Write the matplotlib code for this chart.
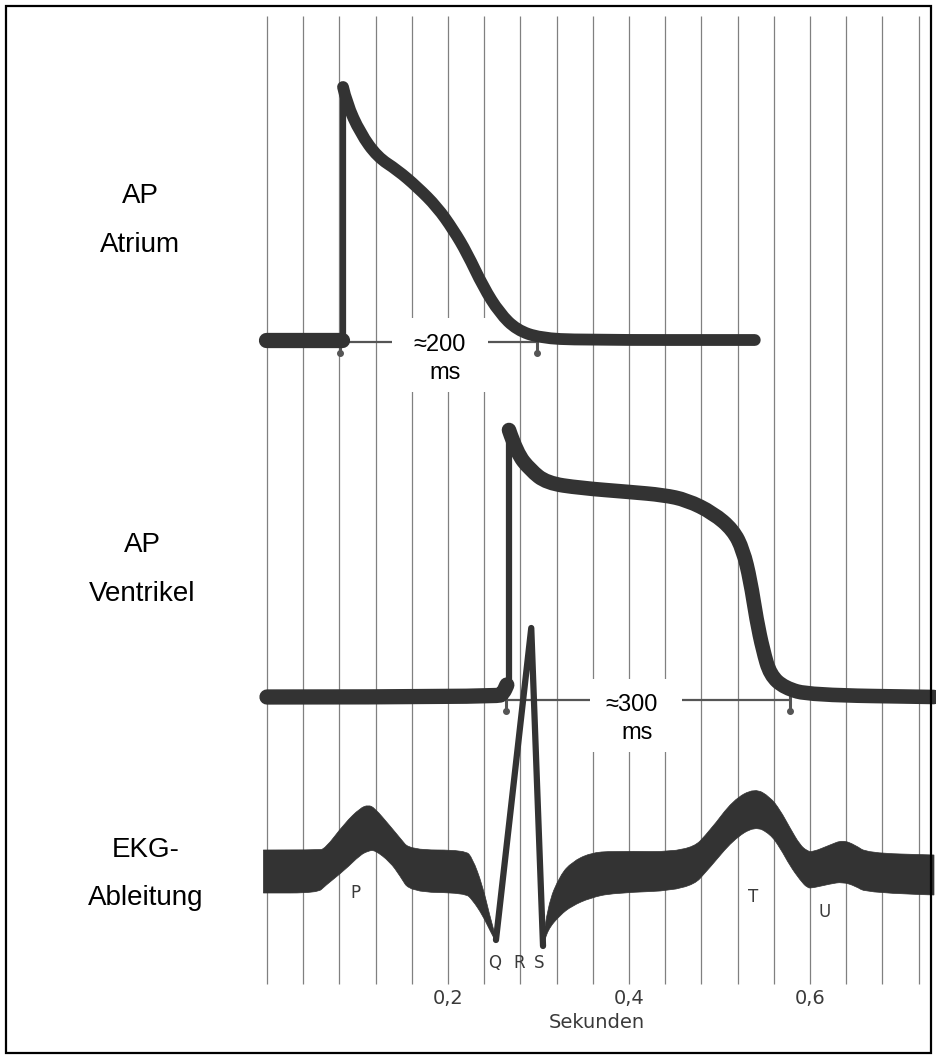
import numpy as np
import matplotlib
matplotlib.use("Agg")
import matplotlib.pyplot as plt
from matplotlib.patches import Rectangle, PathPatch
from matplotlib.path import Path

# time axis: pixels per second and position of t = 0 on the sheet
PXS, X0 = 905.0, 267.0
W, H = 936, 1059

def t_of(px):
    return (px - X0) / PXS

# ---------------- data (t in s, amplitude above baseline) ----------------
# atrial action potential
atr_pre_t = [-0.001, 0.083]
atr_pre_a = [0, 0]
atr_up_t = [0.084, 0.084]
atr_up_a = [0, 253]
atr_t = [0.084, 0.088, 0.103, 0.122, 0.144, 0.166, 0.188, 0.206, 0.221,
         0.239, 0.257, 0.276, 0.302, 0.346, 0.539]
atr_a = [253, 237, 207, 183, 170, 153, 133, 110, 87, 53, 27, 10, 2, 0, 0]

# ventricular action potential
ven_pre_t = [0.0, 0.255, 0.261, 0.265]
ven_pre_a = [0, 0, 4, 12]
ven_up_t = [0.267, 0.267]
ven_up_a = [8, 267]
ven_t = [0.2674, 0.276, 0.291, 0.309, 0.346, 0.401, 0.438, 0.464, 0.493,
         0.515, 0.526, 0.534, 0.541, 0.548, 0.556, 0.572, 0.600, 0.737]
ven_a = [267, 244, 227, 214, 209, 205, 202, 197, 184, 167, 147, 117, 77,
         47, 22, 9, 2, 0]

# ECG: band before Q (upper / lower edge)
ekg1_t = [-0.004, 0.056, 0.064, 0.086, 0.103, 0.112, 0.119, 0.136, 0.147,
          0.158, 0.219, 0.227, 0.238, 0.246, 0.253]
ekg1_hi = [21, 21, 22, 48, 63, 66, 63, 45, 33, 21, 21, 13, -14, -44, -67]
ekg1_lo = [-22, -22, -15, 1, 16, 20, 21, 9, -5, -21, -22, -29, -44, -59, -71]
# QRS spike
qrs_t = [0.253, 0.292, 0.305]
qrs_a = [-69, 243, -75]
# band after S
ekg2_t = [0.305, 0.310, 0.324, 0.337, 0.357, 0.382, 0.467, 0.490, 0.515,
          0.539, 0.556, 0.567, 0.578, 0.589, 0.597, 0.603, 0.622, 0.636,
          0.650, 0.663, 0.737]
ekg2_hi = [-69, -34, -4, 9, 18, 20, 19, 41, 71, 83, 74, 61, 43, 26, 20, 19,
           26, 31, 26, 18, 16]
ekg2_lo = [-77, -59, -44, -35, -27, -22, -19, 4, 31, 45, 37, 23, 5, -9, -17,
           -17, -13, -11, -15, -22, -24]

grid_t = np.arange(0, 0.721, 0.04)
tick_t = [0.2, 0.4, 0.6]
tick_lbl = ["0,2", "0,4", "0,6"]

# baselines of the three traces (sheet y, downwards)
Y_ATR, Y_VEN, Y_EKG = 340, 697, 871
INK = "#333333"

fig = plt.figure(figsize=(W / 100, H / 100), dpi=100)
ax = fig.add_axes([0, 0, 1, 1])
ax.set_xlim(t_of(0), t_of(W))
ax.set_ylim(H, 0)
ax.axis("off")

def y(base, a):
    return base - np.asarray(a, float)

def smooth(xs, ys):
    """quadratic Bezier chain through the midpoints of the given points"""
    verts, codes = [(xs[0], ys[0])], [Path.MOVETO]
    for i in range(1, len(xs) - 1):
        verts += [(xs[i], ys[i]), ((xs[i] + xs[i + 1]) / 2, (ys[i] + ys[i + 1]) / 2)]
        codes += [Path.CURVE3, Path.CURVE3]
    verts.append((xs[-1], ys[-1]))
    codes.append(Path.LINETO)
    return verts, codes

def trace(xs, ys, lw):
    v, c = smooth(list(xs), list(ys))
    ax.add_patch(PathPatch(Path(v, c), fill=False, ec=INK, lw=lw,
                           capstyle="round", joinstyle="round", zorder=3))

def band(xs, hi, lo):
    v1, c1 = smooth(list(xs), list(hi))
    v2, c2 = smooth(list(xs)[::-1], list(lo)[::-1])
    c2[0] = Path.LINETO
    v = v1 + v2 + [v1[0]]
    c = c1 + c2 + [Path.CLOSEPOLY]
    ax.add_patch(PathPatch(Path(v, c), fc=INK, ec=INK, lw=0.5, zorder=3))

# paper grid
ax.vlines(grid_t, 16, 984, color="#808080", lw=0.9, zorder=1)

kw = dict(color=INK, solid_capstyle="round", solid_joinstyle="round", zorder=3)

# atrium
ax.plot(atr_pre_t, y(Y_ATR, atr_pre_a), lw=11, **kw)
ax.plot(atr_up_t, y(Y_ATR, atr_up_a), lw=4.5, **kw)
trace(atr_t, y(Y_ATR, atr_a), 8.5)

# ventricle
trace(ven_pre_t, y(Y_VEN, ven_pre_a), 11)
ax.plot(ven_up_t, y(Y_VEN, ven_up_a), lw=4.5, **kw)
trace(ven_t, y(Y_VEN, ven_a), 10.5)

# duration markers
for t0, t1, yy in [(t_of(340), t_of(537), Y_ATR + 2), (t_of(506), t_of(790), Y_VEN + 3)]:
    ax.plot([t0, t1], [yy, yy], color="#555555", lw=1.6, zorder=2)
    for tt in (t0, t1):
        ax.plot([tt, tt], [yy - 4, yy + 12], color="#555555", lw=2.2, zorder=2)
        ax.plot(tt, yy + 11, "o", ms=4, color="#555555", zorder=2)

# ECG
band(ekg1_t, y(Y_EKG, ekg1_hi), y(Y_EKG, ekg1_lo))
band(ekg2_t, y(Y_EKG, ekg2_hi), y(Y_EKG, ekg2_lo))
ax.plot(qrs_t, y(Y_EKG, qrs_a), lw=4.5, **kw)

# value boxes
for x0, y0, x1, y1, txt, cx, cy in [(392, 318, 488, 392, "≈200", 440, 345),
                                    (590, 679, 682, 752, "≈300", 632, 705)]:
    ax.add_patch(Rectangle((t_of(x0), y0), t_of(x1) - t_of(x0), y1 - y0,
                           fc="white", ec="none", zorder=4))
    ax.text(t_of(cx), cy, txt, ha="center", va="center", fontsize=17,
            family="Liberation Sans", color="black", zorder=5)
    ax.text(t_of(cx + 5), cy + 28, "ms", ha="center", va="center", fontsize=17,
            family="Liberation Sans", color="black", zorder=5)

# row labels
lab = dict(ha="center", va="center", fontsize=20, family="Liberation Sans", color="black")
ax.text(t_of(140), 196, "AP", **lab)
ax.text(t_of(140), 245, "Atrium", **lab)
ax.text(t_of(142), 545, "AP", **lab)
ax.text(t_of(142), 594, "Ventrikel", **lab)
ax.text(t_of(146), 850, "EKG-", **lab)
ax.text(t_of(146), 898, "Ableitung", **lab)

# wave names
wav = dict(ha="center", va="center", fontsize=12, color="#3a3a3a")
ax.text(t_of(355), 893, "P", **wav)
ax.text(t_of(753), 897, "T", **wav)
ax.text(t_of(825), 912, "U", **wav)
ax.text(t_of(495), 963, "Q", **wav)
ax.text(t_of(519), 963, "R", **wav)
ax.text(t_of(539), 963, "S", **wav)

# time scale
for tt, s in zip(tick_t, tick_lbl):
    ax.text(tt, 998, s, ha="center", va="center", fontsize=14, color="#3a3a3a")
ax.text(t_of(597), 1022, "Sekunden", ha="center", va="center", fontsize=14, color="#3a3a3a")

# outer frame
ax.add_patch(Rectangle((t_of(6), 6), t_of(931) - t_of(6), 1047, fill=False,
                       ec="black", lw=1.6, zorder=6))

fig.savefig("out.png", dpi=100)
